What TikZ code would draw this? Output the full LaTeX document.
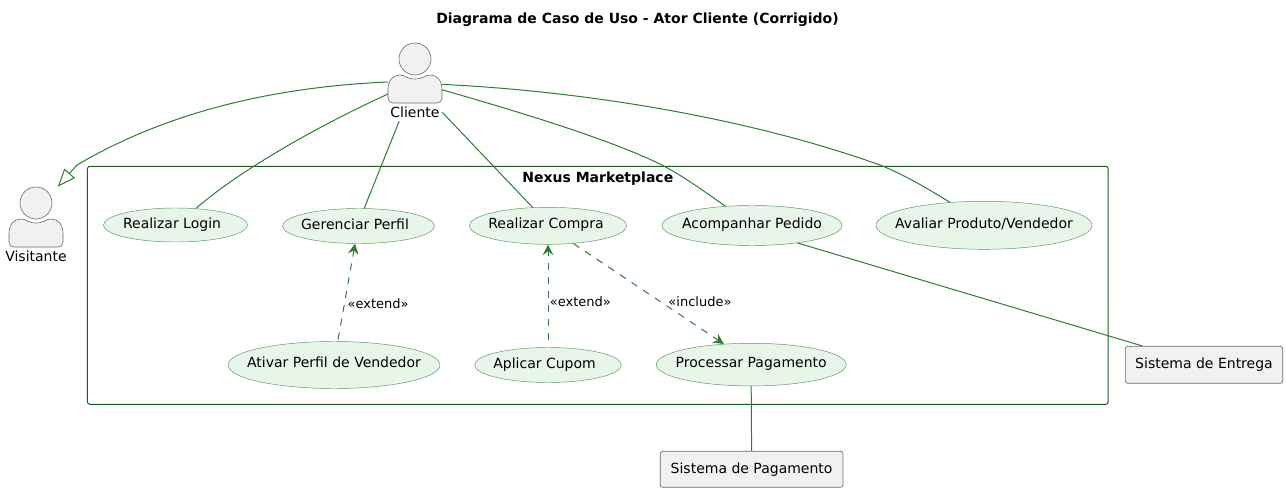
\documentclass[tikz,border=0pt]{standalone}
\usepackage{fontspec}
\setmainfont{DejaVu Sans}
\usetikzlibrary{arrows.meta, shapes.geometric}
\definecolor{linegreen}{HTML}{2E7D32}
\definecolor{boxgreen}{HTML}{1B5E20}
\definecolor{usefill}{HTML}{E8F5E9}
\definecolor{actorfill}{HTML}{F1F1F1}
\definecolor{actorline}{HTML}{6A6A6A}
\newcommand{\casetext}[3]{\makebox[0pt]{\hspace*{#1}\raisebox{#2}{#3}\hspace*{-#1}}}
\newcommand{\actorfig}[4]{%
  \node[actorbox] (#1) at (#2,#3) {};
  \begin{scope}[shift={(#1.center)}]
    \node[actorhead] (#1Head) at (0,-23) {};
    \draw[actorbody] (-22,21) .. controls (-25,21) and (-27,19) .. (-27,16) -- (-27,8)
      .. controls (-27,-2) and (-22,-7) .. (-15,-7) .. controls (-10,-7) and (-8,-3) .. (0,-3)
      .. controls (8,-3) and (10,-7) .. (15,-7) .. controls (22,-7) and (27,-2) .. (27,8)
      -- (27,16) .. controls (27,19) and (25,21) .. (22,21) -- cycle;
    \node[actorlabel] (#1Label) at (0,32) {#4};
  \end{scope}}
\begin{document}
\begin{tikzpicture}[x=0.75pt, y=-0.75pt, font=\fontsize{10.5pt}{12pt}\selectfont]
    \tikzstyle{usecase}=[ellipse, draw=linegreen!80, line width=0.35pt, fill=usefill, inner sep=0pt, text height=7.8pt, text depth=2pt]
    \tikzstyle{extbox}=[rectangle, draw=actorline, line width=0.5pt, fill=actorfill, rounded corners=1.8pt, inner sep=0pt, text height=7.8pt, text depth=2pt]
    \tikzstyle{actorbox}=[rectangle, inner sep=0pt, minimum width=40.5pt, minimum height=58.5pt]
    \tikzstyle{actorhead}=[circle, draw=actorline, line width=0.45pt, fill=actorfill, inner sep=0pt, minimum size=24pt]
    \tikzstyle{actorbody}=[draw=actorline, line width=0.45pt, fill=actorfill]
    \tikzstyle{actorlabel}=[inner sep=0pt, text height=7.8pt, text depth=2pt]
    \tikzstyle{assoc}=[draw=linegreen, line width=0.75pt]
    \tikzstyle{dep}=[assoc, dash pattern=on 5.25pt off 5.25pt, -{Stealth[length=8pt, width=8pt, inset=3pt]}]
    \tikzstyle{deplabel}=[font=\fontsize{9.75pt}{11pt}\selectfont, text=black, inner sep=0pt]
    \useasboundingbox (0,0) rectangle (1286,492);

    % Titulo
    \node[font=\bfseries\fontsize{10.5pt}{12pt}\selectfont] (title) at (637.5,19.5) {Diagrama de Caso de Uso - Ator Cliente (Corrigido)};

    % Sistema
    \node[draw=boxgreen, line width=0.75pt, rounded corners=1.8pt, inner sep=0pt, minimum width=765.5pt, minimum height=178.5pt] (nexus) at (597.8,285.3) {};
    \node[font=\bfseries\fontsize{10.5pt}{12pt}\selectfont, anchor=north, inner sep=0pt] (nexusLabel) at (597.8,171.5) {Nexus Marketplace};

    % Casos de uso
    \node[usecase, minimum width=108pt, minimum height=25.5pt] (login) at (175.5,225) {\casetext{-2.6pt}{0pt}{Realizar Login}};
    \node[usecase, minimum width=114pt, minimum height=26.25pt] (perfil) at (358.5,226) {\casetext{-2.6pt}{0pt}{Gerenciar Perfil}};
    \node[usecase, minimum width=118pt, minimum height=27.75pt] (compra) at (548,225.8) {\casetext{-1.5pt}{0.7pt}{Realizar Compra}};
    \node[usecase, minimum width=135pt, minimum height=30pt] (pedido) at (752,225.5) {\casetext{0pt}{0.7pt}{Acompanhar Pedido}};
    \node[usecase, minimum width=162pt, minimum height=36pt] (avaliar) at (984,225.3) {\casetext{0pt}{0.4pt}{Avaliar Produto/Vendedor}};
    \node[usecase, minimum width=159pt, minimum height=35.25pt] (vendedor) at (334,365) {\casetext{0pt}{0.7pt}{Ativar Perfil de Vendedor}};
    \node[usecase, minimum width=110pt, minimum height=26.25pt] (cupom) at (548,365) {\casetext{-2.6pt}{0pt}{Aplicar Cupom}};
    \node[usecase, minimum width=142.5pt, minimum height=32pt] (pagar) at (751.2,364.6) {\casetext{0pt}{1pt}{Processar Pagamento}};

    % Sistemas externos
    \node[extbox, minimum width=137pt, minimum height=27pt] (pagamento) at (751.6,469.3) {Sistema de Pagamento};
    \node[extbox, minimum width=118pt, minimum height=27.75pt] (entrega) at (1204,364.8) {Sistema de Entrega};

    % Atores
    \actorfig{cliente}{415}{82}{Cliente}
    \actorfig{visitante}{36}{226}{Visitante}

    % Ligacoes
    \draw[assoc, -{Triangle[open, length=13.5pt, width=10.5pt, fill=white]}] (cliente.180) .. controls (250,88) and (150,122) .. (77,165) -- (visitante.61);
    \draw[assoc] (cliente.204) .. controls (320,125) and (240,170) .. (login.39);
    \draw[assoc] (cliente.248) -- (perfil.72);
    \draw[assoc] (cliente.-48) -- (compra.130);
    \draw[assoc] (cliente.-16) .. controls (530,115) and (610,140) .. (660,164) .. controls (685,177) and (705,192) .. (pedido.144);
    \draw[assoc] (cliente.-5) .. controls (600,92) and (760,122) .. (880,165) .. controls (905,175) and (930,190) .. (avaliar.146);
    \draw[assoc] (pedido.-21) -- (entrega.163);
    \draw[assoc] (pagar.south) -- (pagamento.north);

    % Dependencias
    \draw[dep, shorten <=1.5pt] (vendedor.81) -- node[deplabel, right, pos=0.39, xshift=2pt] {«extend»} (perfil.259);
    \draw[dep, shorten <=5.6pt] (cupom.north) -- node[deplabel, right, pos=0.44, xshift=1pt] {«extend»} (compra.south);
    \draw[dep] (compra.-35) -- node[deplabel, right, pos=0.58, xshift=5.5pt] {«include»} (pagar.143);
\end{tikzpicture}
\end{document}
